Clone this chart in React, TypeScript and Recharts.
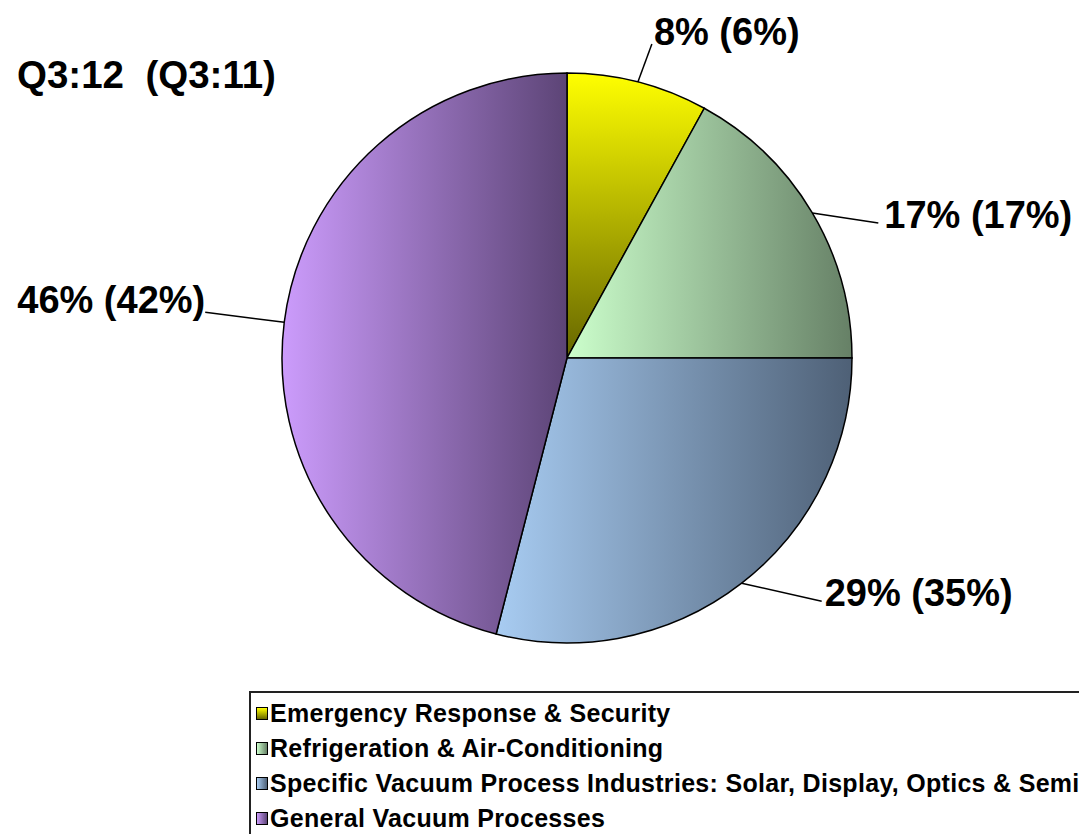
import React from "react";
import { Cell, Legend, Pie, PieChart } from "recharts";

const segments = [
  "Emergency Response & Security",
  "Refrigeration & Air-Conditioning",
  "Specific Vacuum Process Industries: Solar, Display, Optics & Semi",
  "General Vacuum Processes",
];
const shareQ312 = [8, 17, 29, 46];
const shareQ311 = [6, 17, 35, 42];

const data = segments.map((name, i) => ({ name, value: shareQ312[i], prev: shareQ311[i] }));

// gradient stops: light -> dark, yellow one runs top to bottom
const gradients = [
  { id: "g0", from: "#ffff00", to: "#666600", vertical: true },
  { id: "g1", from: "#ccffcc", to: "#668066", vertical: false },
  { id: "g2", from: "#a8ccf2", to: "#4e6076", vertical: false },
  { id: "g3", from: "#cc9cfc", to: "#5c4476", vertical: false },
];

// leader line end (relative to slice mid-point on the rim) and text offset
const labelLayout = [
  { dx: 14, dy: -38, tx: 2, ty: 1, anchor: "start" },
  { dx: 66, dy: 10, tx: 6, ty: 5, anchor: "start" },
  { dx: 80, dy: 18, tx: 3, ty: 5, anchor: "start" },
  { dx: -79, dy: -10, tx: 0, ty: 1, anchor: "end" },
];

const RADIAN = Math.PI / 180;
const FONT = "'Liberation Sans', Arial, sans-serif";

function renderLabel(props: any) {
  const { cx, cy, midAngle, outerRadius, index } = props;
  const sx = cx + outerRadius * Math.cos(-midAngle * RADIAN);
  const sy = cy + outerRadius * Math.sin(-midAngle * RADIAN);
  const l = labelLayout[index];
  const ex = sx + l.dx;
  const ey = sy + l.dy;
  return (
    <g key={`lbl-${index}`}>
      <line x1={sx} y1={sy} x2={ex} y2={ey} stroke="#000" strokeWidth={1.5} />
      <text
        x={ex + l.tx}
        y={ey + l.ty}
        textAnchor={l.anchor}
        fontFamily={FONT}
        fontWeight="bold"
        fontSize={38}
        fill="#000"
      >
        {`${shareQ312[index]}% (${shareQ311[index]}%)`}
      </text>
    </g>
  );
}

function LegendBox() {
  return (
    <div
      style={{
        width: 1000,
        height: 170,
        border: "2px solid #222",
        borderRight: "none",
        boxSizing: "border-box",
        paddingTop: 3,
        background: "#fff",
      }}
    >
      {segments.map((name, i) => {
        const g = gradients[i];
        return (
          <div key={name} style={{ height: 35, display: "flex", alignItems: "center", paddingLeft: 5 }}>
            <span
              style={{
                display: "inline-block",
                width: 10,
                height: 11,
                border: "1px solid #000",
                background: `linear-gradient(${g.vertical ? "to bottom" : "to right"}, ${g.from}, ${g.to})`,
                marginRight: 2,
              }}
            />
            <span
              style={{
                display: "inline-block",
                fontFamily: FONT,
                fontWeight: "bold",
                fontSize: 25,
                letterSpacing: 0.3,
                color: "#000",
                whiteSpace: "nowrap",
              }}
            >
              {name}
            </span>
          </div>
        );
      })}
    </div>
  );
}

export default function App() {
  return (
    <div
      style={{
        position: "absolute",
        left: 0,
        top: 0,
        width: 1079,
        height: 834,
        overflow: "hidden",
        background: "#fff",
      }}
    >
      <PieChart width={1079} height={834} margin={{ top: 0, right: 0, bottom: 0, left: 0 }}>
        <defs>
          {gradients.map((g) => (
            <linearGradient key={g.id} id={g.id} x1="0" y1="0" x2={g.vertical ? "0" : "1"} y2={g.vertical ? "1" : "0"}>
              <stop offset="0%" stopColor={g.from} />
              <stop offset="100%" stopColor={g.to} />
            </linearGradient>
          ))}
        </defs>
        <Pie
          data={data}
          dataKey="value"
          nameKey="name"
          cx={567}
          cy={358}
          outerRadius={285}
          startAngle={90}
          endAngle={-270}
          stroke="#000"
          strokeWidth={1.5}
          label={renderLabel}
          labelLine={false}
          isAnimationActive={false}
        >
          {data.map((d, i) => (
            <Cell key={d.name} fill={`url(#${gradients[i].id})`} />
          ))}
        </Pie>
        <Legend
          content={() => <LegendBox />}
          wrapperStyle={{ position: "absolute", left: 249, top: 691, width: 1000, height: 170 }}
        />
      </PieChart>
      <svg
        width={1079}
        height={120}
        style={{ position: "absolute", left: 0, top: 0, pointerEvents: "none" }}
      >
        <text x={17} y={88} fontFamily={FONT} fontWeight="bold" fontSize={38.5} fill="#000" style={{ whiteSpace: "pre" }}>
          {"Q3:12  (Q3:11)"}
        </text>
      </svg>
    </div>
  );
}
